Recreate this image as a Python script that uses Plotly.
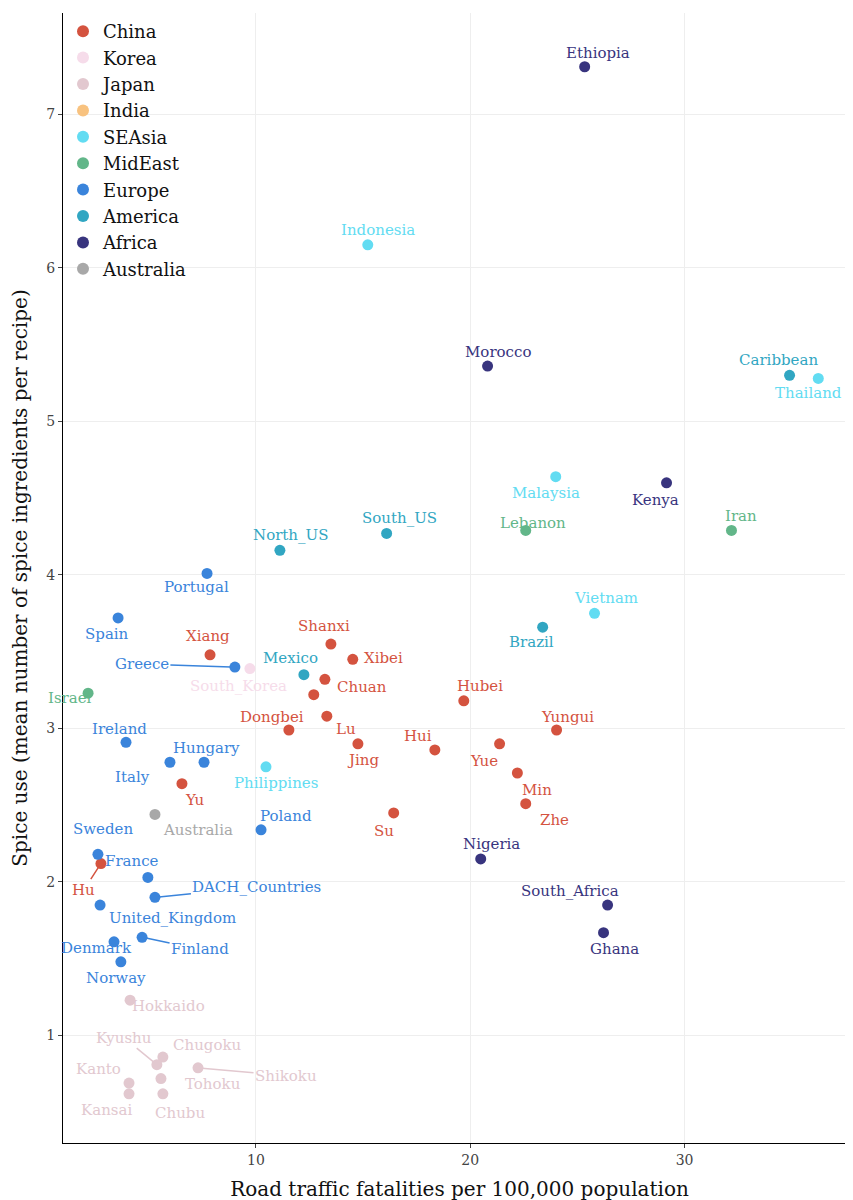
import plotly.graph_objects as go

# cuisine, group, road fatalities, spice use
names = ["Ethiopia","Indonesia","Morocco","Caribbean","Thailand","Malaysia","Kenya","Iran","Lebanon",
         "South_US","North_US","Portugal","Vietnam","Spain","Brazil","Shanxi","Xiang","Xibei","Greece",
         "South_Korea","Mexico","Chuan","","Israel","Hubei","Dongbei","Lu","Yungui","Ireland","Jing",
         "Yue","Hui","Hungary","Italy","Philippines","Min","Yu","Zhe","Su","Australia","Poland","Sweden",
         "Hu","Nigeria","France","DACH_Countries","South_Africa","United_Kingdom","Ghana","Finland",
         "Denmark","Norway","Hokkaido","Chugoku","Kyushu","Shikoku","Tohoku","Kanto","Kansai","Chubu"]
groups = ["Africa","SEAsia","Africa","America","SEAsia","SEAsia","Africa","MidEast","MidEast",
          "America","America","Europe","SEAsia","Europe","America","China","China","China","Europe",
          "Korea","America","China","China","MidEast","China","China","China","China","Europe","China",
          "China","China","Europe","Europe","SEAsia","China","China","China","China","Australia","Europe","Europe",
          "China","Africa","Europe","Europe","Africa","Europe","Africa","Europe",
          "Europe","Europe","Japan","Japan","Japan","Japan","Japan","Japan","Japan","Japan"]
fatal = [25.34,15.22,20.81,34.90,36.24,23.99,29.16,32.19,22.59,
         16.10,11.12,7.72,25.80,3.57,23.38,13.50,7.86,14.52,9.02,
         9.72,12.24,13.22,12.70,2.17,19.70,11.54,13.31,24.03,3.94,14.76,
         21.37,18.35,7.58,5.99,10.47,22.20,6.55,22.59,16.43,5.29,10.24,2.63,
         2.77,20.49,4.96,5.29,26.41,2.73,26.22,4.69,
         3.38,3.70,4.13,5.66,5.38,7.30,5.57,4.08,4.08,5.66]
spice = [7.31,6.15,5.36,5.30,5.28,4.64,4.60,4.29,4.29,
         4.27,4.16,4.01,3.75,3.72,3.66,3.55,3.48,3.45,3.40,
         3.39,3.35,3.32,3.22,3.23,3.18,2.99,3.08,2.99,2.91,2.90,
         2.90,2.86,2.78,2.78,2.75,2.71,2.64,2.51,2.45,2.44,2.34,2.18,
         2.12,2.15,2.03,1.90,1.85,1.85,1.67,1.64,
         1.61,1.48,1.23,0.86,0.81,0.79,0.72,0.69,0.62,0.62]

group_order = ["China","Korea","Japan","India","SEAsia","MidEast","Europe","America","Africa","Australia"]
group_colors = ["#d4533f","#f6dcea","#e2c8cf","#f8c27f","#62dcf2","#62b689","#3a84db","#31a6c2","#38347e","#a8a8a8"]

# label offsets in pixels (dx, dy) and whether a connector line is drawn
offsets = {"Ethiopia":(13,-14),"Indonesia":(10,-15),"Morocco":(10,-14),"Caribbean":(-11,-15),
    "Thailand":(-10,15),"Malaysia":(-10,16),"Kenya":(-11,17),"Iran":(10,-14),"Lebanon":(7,-7),
    "South_US":(13,-15),"North_US":(11,-15),"Portugal":(-11,14),"Vietnam":(11,-15),"Spain":(-11,16),
    "Brazil":(-11,15),"Shanxi":(-7,-18),"Xiang":(-2,-19),"Xibei":(31,-1),"Greece":(-93,-3),
    "South_Korea":(-11,17),"Mexico":(-13,-17),"Chuan":(37,8),"Israel":(-18,5),"Hubei":(16,-15),
    "Dongbei":(-17,-13),"Lu":(19,13),"Yungui":(11,-13),"Ireland":(-7,-13),"Jing":(5,16),
    "Yue":(-16,17),"Hui":(-17,-14),"Hungary":(2,-14),"Italy":(-37,15),"Philippines":(10,16),
    "Min":(20,17),"Yu":(13,16),"Zhe":(29,16),"Su":(-10,18),"Australia":(43,16),"Poland":(25,-14),
    "Sweden":(5,-25),"Hu":(-17,26),"Nigeria":(11,-15),"France":(-16,-16),"DACH_Countries":(102,-10),
    "South_Africa":(-38,-14),"United_Kingdom":(72,13),"Ghana":(11,16),"Finland":(58,12),
    "Denmark":(-18,6),"Norway":(-5,16),"Hokkaido":(38,6),"Chugoku":(45,-12),"Kyushu":(-33,-27),
    "Shikoku":(88,8),"Tohoku":(52,5),"Kanto":(-31,-14),"Kansai":(-23,16),"Chubu":(17,19)}
lined = {"Greece","Hu","DACH_Countries","Finland","Kyushu","Shikoku"}

color_of = dict(zip(group_order, group_colors))
font = "DejaVu Serif"

fig = go.Figure()
for g in group_order:
    xs = [x for x, gg in zip(fatal, groups) if gg == g]
    ys = [y for y, gg in zip(spice, groups) if gg == g]
    fig.add_trace(go.Scatter(x=xs or [None], y=ys or [None], mode="markers", name=g,
                             marker=dict(size=11, color=color_of[g]), hoverinfo="skip"))

for n, g, x, y in zip(names, groups, fatal, spice):
    if not n:
        continue
    dx, dy = offsets[n]
    fig.add_annotation(x=x, y=y, text=n, ax=dx, ay=dy, showarrow=True, arrowhead=0,
                       arrowwidth=1.5, standoff=4,
                       arrowcolor=color_of[g] if n in lined else "rgba(0,0,0,0)",
                       font=dict(family=font, size=15, color=color_of[g]))

fig.update_layout(
    width=853, height=1200, plot_bgcolor="white", paper_bgcolor="white",
    margin=dict(l=55, r=5, t=5, b=65),
    font=dict(family=font, color="#333"),
    legend=dict(x=0.0, y=1.0, xanchor="left", yanchor="top", font=dict(size=18, color="#111"),
                bgcolor="rgba(0,0,0,0)", itemsizing="constant", tracegroupgap=0),
    showlegend=True,
)
fig.update_xaxes(range=[1.0, 38.0], tickvals=[10, 20, 30], showgrid=True, gridcolor="#eeeeee",
                 showline=True, linecolor="black", ticks="outside", ticklen=4,
                 tickfont=dict(size=14, color="#444"), zeroline=False,
                 title=dict(text="Road traffic fatalities per 100,000 population", font=dict(size=20, color="#111")))
fig.update_yaxes(range=[0.30, 7.66], tickvals=[1, 2, 3, 4, 5, 6, 7], showgrid=True, gridcolor="#eeeeee",
                 showline=True, linecolor="black", ticks="outside", ticklen=4,
                 tickfont=dict(size=14, color="#444"), zeroline=False,
                 title=dict(text="Spice use (mean number of spice ingredients per recipe)", font=dict(size=20, color="#111")))

fig.write_html("out.html")
